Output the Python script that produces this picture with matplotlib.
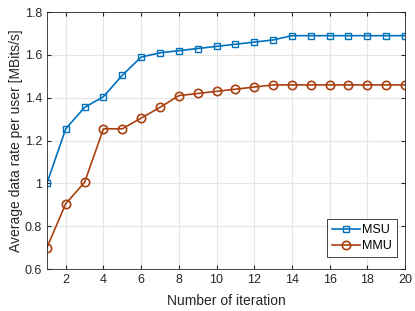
import matplotlib
matplotlib.use('Agg')
import matplotlib.pyplot as plt
import numpy as np

plt.rcParams['font.family'] = ['Liberation Sans', 'DejaVu Sans']

iterations = np.arange(1, 21)
msu = [1.0, 1.255, 1.355, 1.405, 1.505, 1.59, 1.61, 1.62, 1.63, 1.64,
       1.65, 1.66, 1.67, 1.69, 1.69, 1.69, 1.69, 1.69, 1.69, 1.69]
mmu = [0.7, 0.905, 1.005, 1.255, 1.255, 1.305, 1.355, 1.41, 1.42, 1.43,
       1.44, 1.45, 1.46, 1.46, 1.46, 1.46, 1.46, 1.46, 1.46, 1.46]

fig = plt.figure(figsize=(4.15, 3.11), dpi=100)
ax = fig.add_axes([0.113, 0.135, 0.863, 0.826])

ax.plot(iterations, msu, color='#0072BD', lw=1.2, marker='s', ms=4.5,
        mfc='none', mew=1.0, label='MSU')
ax.plot(iterations, mmu, color='#A9400F', lw=1.2, marker='o', ms=6,
        mfc='none', mew=1.2, label='MMU')

ax.set_xlim(1, 20)
ax.set_ylim(0.6, 1.8)
ax.set_xticks(np.arange(2, 21, 2))
ax.set_yticks(np.arange(0.6, 1.81, 0.2))
ax.set_yticklabels(['0.6', '0.8', '1', '1.2', '1.4', '1.6', '1.8'])
ax.grid(True, color='#e6e6e6', lw=0.8)
ax.set_axisbelow(True)
ax.tick_params(direction='in', labelsize=9, colors='#262626', length=3, top=True, right=True, labeltop=False, labelright=False)
for s in ax.spines.values():
    s.set_color('#262626')
    s.set_linewidth(0.6)

ax.set_xlabel('Number of iteration', fontsize=10, color='#262626', labelpad=5.5)
ax.set_ylabel('Average data rate per user [MBits/s]', fontsize=10, color='#262626', labelpad=1.5)

leg = ax.legend(loc='lower right', bbox_to_anchor=(0.978, 0.047), fontsize=9,
                fancybox=False, framealpha=1, edgecolor='#262626',
                handlelength=2.2, borderpad=0.4, labelspacing=0.3,
                handletextpad=0.2, borderaxespad=0)
leg.get_frame().set_linewidth(0.6)

fig.savefig('out.png', dpi=100)
